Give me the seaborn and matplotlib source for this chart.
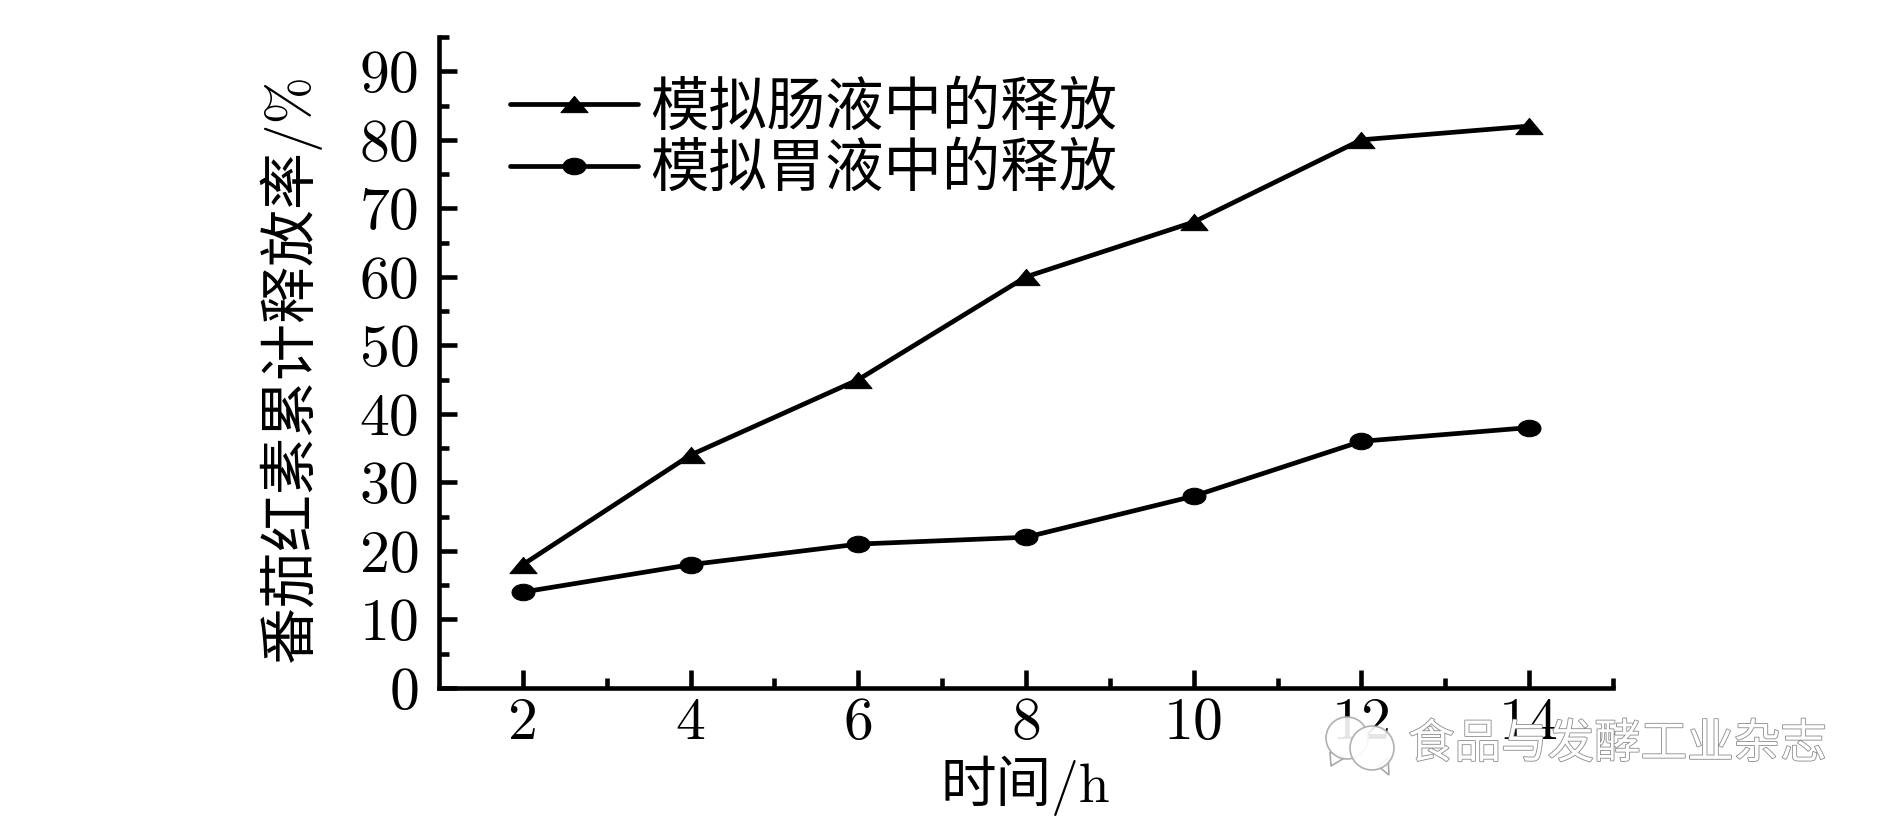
import numpy as np
import pandas as pd
import seaborn as sns
import matplotlib.pyplot as plt
import matplotlib.patheffects as pe
from matplotlib.patches import Ellipse, Polygon
from matplotlib.path import Path
from matplotlib.ticker import FixedLocator

hours = [2, 4, 6, 8, 10, 12, 14]
intestinal = [18, 34, 45, 60, 68, 80, 82]
gastric = [14, 18, 21, 22, 28, 36, 38]
series_names = ['模拟肠液中的释放', '模拟胃液中的释放']
x_ticks = [2, 4, 6, 8, 10, 12, 14]
y_ticks = [0, 10, 20, 30, 40, 50, 60, 70, 80, 90]

W, H = 1890, 827

sns.set_theme(style='white')
plt.rcParams['font.family'] = ['cmr10', 'Noto Sans CJK SC', 'DejaVu Sans']
plt.rcParams['axes.unicode_minus'] = False
plt.rcParams['axes.formatter.use_mathtext'] = True

df = pd.DataFrame({
    'time': hours * 2,
    'release': intestinal + gastric,
    'medium': [series_names[0]] * len(hours) + [series_names[1]] * len(hours),
})

# the markers in the original are squashed vertically
circle = Path.unit_circle()
flat_circle = Path(circle.vertices * np.array([1, 0.72]), circle.codes)
flat_triangle = Path([(-1, -0.6), (1, -0.6), (0, 0.6), (-1, -0.6)], closed=True)

fig = plt.figure(figsize=(W / 100, H / 100), dpi=100, facecolor='white')
ax = fig.add_axes([439 / W, 1 - 688 / H, (1613 - 439) / W, (688 - 37) / H])

sns.lineplot(data=df, x='time', y='release', style='medium',
             markers={series_names[0]: flat_triangle, series_names[1]: flat_circle},
             dashes=False, color='black', linewidth=3.4, markersize=16.5, markeredgecolor='black', ax=ax)

ax.set_xlim(1, 15)
ax.set_ylim(0, 95)
ax.spines['top'].set_visible(False)
ax.spines['right'].set_visible(False)
ax.spines['left'].set_linewidth(3.3)
ax.spines['bottom'].set_linewidth(3.3)
ax.spines['left'].set_color('black')
ax.spines['bottom'].set_color('black')

ax.set_xticks(x_ticks)
ax.set_xticklabels([str(v) for v in x_ticks])
ax.set_yticks(y_ticks)
ax.set_yticklabels([str(v) for v in y_ticks])
ax.xaxis.set_minor_locator(FixedLocator([3, 5, 7, 9, 11, 13, 15]))
ax.yaxis.set_minor_locator(FixedLocator([5, 15, 25, 35, 45, 55, 65, 75, 85, 95]))
ax.tick_params(which='major', direction='in', length=13, width=3.3, color='black', labelsize=43, labelcolor='black')
ax.tick_params(which='minor', direction='in', length=7, width=3.3, color='black', bottom=True, left=True)
ax.tick_params(axis='x', which='major', bottom=True, pad=7)
ax.tick_params(axis='y', which='major', left=True, pad=14)

ax.set_xlabel('时间/h', fontsize=40, color='black', va='center', ha='center')
ax.xaxis.set_label_coords(1025 / W, 1 - 786 / H, transform=fig.transFigure)
ax.set_ylabel('番茄红素累计释放率/%', fontsize=41, color='black', va='center', ha='center')
ax.yaxis.set_label_coords(290 / W, 1 - 368 / H, transform=fig.transFigure)

handles, labels = ax.get_legend_handles_labels()
# triangles are a bit wider than the circles
ax.lines[0].set_markersize(19.5)
handles[0].set_markersize(19.5)
leg = ax.legend(handles, labels, loc='upper left', bbox_to_anchor=(510 / W, 1 - 81 / H),
                bbox_transform=fig.transFigure, frameon=False, fontsize=42, handlelength=2.2,
                handletextpad=0.2, labelspacing=0.12, borderpad=0, borderaxespad=0)
for t in leg.get_texts():
    t.set_color('black')

# watermark sits over the tick labels
fig.text(1408 / W, 1 - 745 / H, '食品与发酵工业杂志', fontsize=33.5, color='white', va='center', ha='left',
         zorder=10, path_effects=[pe.withStroke(linewidth=1.2, foreground='#8a8a8a')])
for cx, cy, r, tail in [(1347, 738, 21, [(1330, 752), (1331, 766), (1346, 757)]),
                        (1372, 748, 22, [(1378, 766), (1389, 775), (1388, 758)])]:
    for artist in [Polygon([(x / W, 1 - y / H) for x, y in tail], transform=fig.transFigure,
                           facecolor='white', edgecolor='#a8a8a8', linewidth=1.2, zorder=9),
                   Ellipse((cx / W, 1 - cy / H), 2 * r / W, 2 * r / H, transform=fig.transFigure,
                           facecolor='white', edgecolor='#a8a8a8', linewidth=1.2, alpha=0.9, zorder=9)]:
        fig.add_artist(artist)

fig.savefig('out.png', dpi=100, facecolor='white')
